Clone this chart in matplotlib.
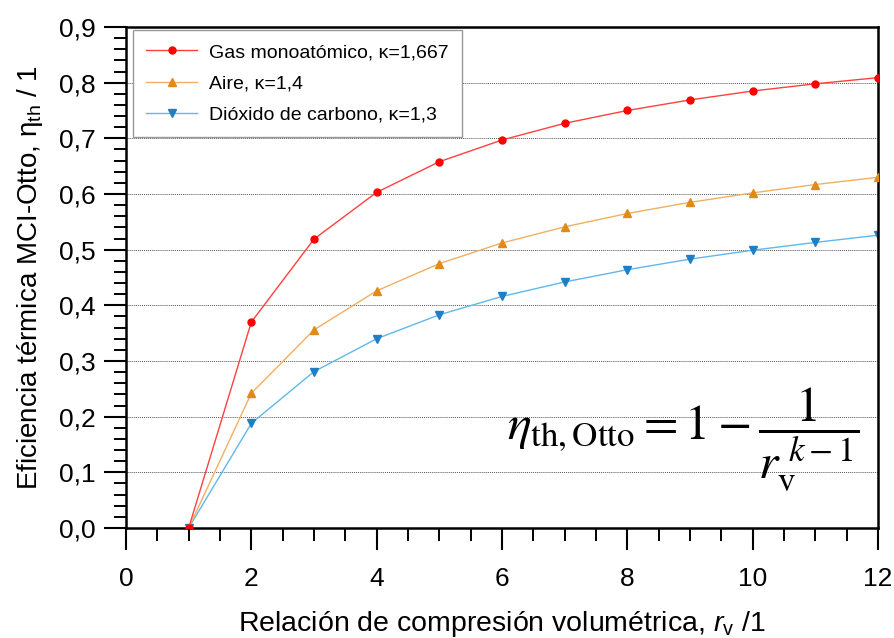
#!/usr/bin/env python3

import matplotlib
matplotlib.use("Agg")
import matplotlib.pyplot as plt
from matplotlib.ticker import MultipleLocator, FuncFormatter

# Datos
r_v = [1, 2, 3, 4, 5, 6, 7, 8, 9, 10, 11, 12]
eta_mono = [0.0, 0.370, 0.519, 0.603, 0.658, 0.697, 0.727, 0.750, 0.769, 0.785, 0.798, 0.809]
eta_aire = [0.0, 0.242, 0.356, 0.426, 0.475, 0.512, 0.541, 0.565, 0.585, 0.602, 0.617, 0.630]
eta_co2 = [0.0, 0.188, 0.281, 0.340, 0.383, 0.416, 0.442, 0.464, 0.483, 0.499, 0.513, 0.526]

labels = ["Gas monoatómico, κ=1,667", "Aire, κ=1,4", "Dióxido de carbono, κ=1,3"]

plt.rcParams['font.family'] = ['Liberation Sans', 'DejaVu Sans']
plt.rcParams['mathtext.fontset'] = 'custom'
plt.rcParams['mathtext.rm'] = 'Liberation Sans'
plt.rcParams['mathtext.it'] = 'Liberation Sans:italic'

fig = plt.figure(figsize=(8.94, 6.38), dpi=100)
ax = fig.add_axes([126 / 894, 1 - 528 / 638, (878 - 126) / 894, (528 - 27) / 638])

ax.plot(r_v, eta_mono, color='#ff4040', lw=1.0, marker='o', ms=5,
        mfc='#ff0000', mec='#ff0000', label=labels[0], zorder=4)
ax.plot(r_v, eta_aire, color='#f0b060', lw=1.0, marker='^', ms=6,
        mfc='#e08a1a', mec='#e08a1a', label=labels[1], zorder=3)
ax.plot(r_v, eta_co2, color='#60b8ec', lw=1.0, marker='v', ms=6,
        mfc='#1f7fc4', mec='#1f7fc4', label=labels[2], zorder=2)

ax.set_xlim(0, 12)
ax.set_ylim(0, 0.9)
ax.xaxis.set_major_locator(MultipleLocator(2))
ax.xaxis.set_minor_locator(MultipleLocator(0.5))
ax.yaxis.set_major_locator(MultipleLocator(0.1))
ax.yaxis.set_minor_locator(MultipleLocator(0.02))
ax.yaxis.set_major_formatter(FuncFormatter(lambda v, p: f"{v:.1f}".replace('.', ',')))

ax.tick_params(axis='x', which='major', direction='out', length=16, width=1.5, labelsize=19, pad=12)
ax.tick_params(axis='x', which='minor', direction='out', length=9, width=1.4)
ax.tick_params(axis='y', which='major', direction='out', length=16, width=1.5, labelsize=19, pad=6)
ax.tick_params(axis='y', which='minor', direction='out', length=9, width=1.4)

for s in ax.spines.values():
    s.set_linewidth(1.8)

ax.grid(axis='y', which='major', linestyle=(0, (1, 1)), color='#555555', lw=0.7)

ax.set_xlabel(r"Relación de compresión volumétrica, $r_{\mathrm{v}}$ /1", fontsize=20.5, labelpad=13)
ax.set_ylabel(r"Eficiencia térmica MCI-Otto, $\mathregular{\eta_{th}}$ / 1", fontsize=20, labelpad=10)

leg = ax.legend(loc='upper left', fontsize=14, frameon=True, fancybox=False,
                edgecolor='#999999', framealpha=1, borderpad=0.7, labelspacing=0.7,
                handlelength=2.6, handletextpad=0.6, borderaxespad=0,
                bbox_to_anchor=(0.009, 0.994))
leg.get_frame().set_linewidth(1.0)

ax.text(0.975, 0.175, r"$\eta_{\mathrm{th,Otto}} = 1 - \dfrac{1}{r_{\mathrm{v}}^{\;k-1}}$",
        transform=ax.transAxes, fontsize=36, ha='right', va='center',
        math_fontfamily='stix', zorder=5)

fig.savefig("out.png", dpi=100)
